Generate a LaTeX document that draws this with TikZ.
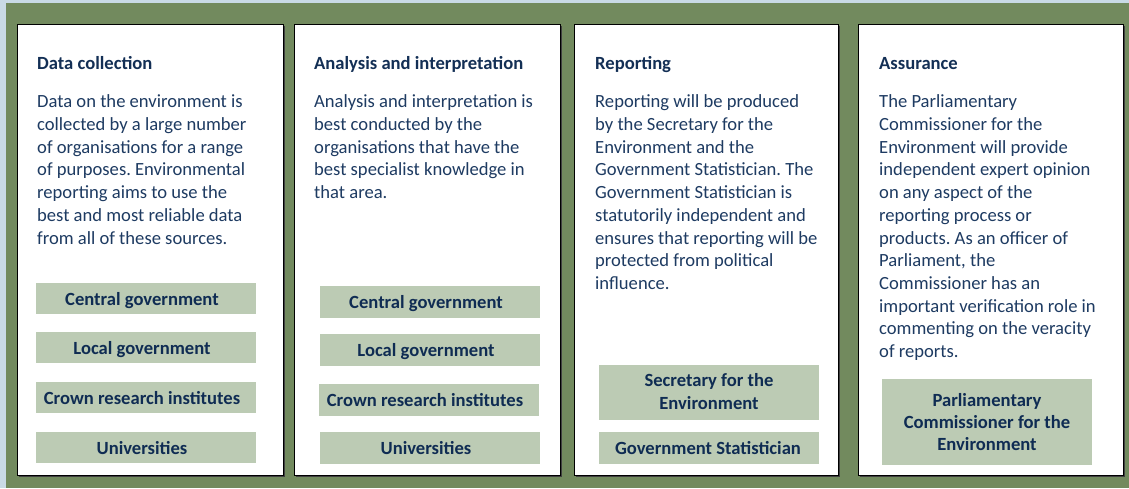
\documentclass[tikz,border=0pt]{standalone}
\usepackage{fontspec}
\setmainfont{Carlito}
\frenchspacing
\definecolor{bggreen}{HTML}{728A5E}
\definecolor{edgeblue}{HTML}{C9DAE6}
\definecolor{labfill}{HTML}{BCCBB4}
\definecolor{titlec}{HTML}{132F55}
\definecolor{bodyc}{HTML}{1E3B62}
\definecolor{labc}{HTML}{0F2C53}
\newcommand\fsz{\fontsize{18.6pt}{22.7pt}\selectfont}
\newcommand\lfsz{\fontsize{18.6pt}{22.4pt}\selectfont}
\newcommand\mypara[1]{\parbox[t]{255pt}{\raggedright #1}}
\newcommand\mycent[1]{\parbox[t]{210pt}{\centering #1}}
\tikzset{
  panel/.style={draw=black, line width=1.2pt, fill=white},
  shadow/.style={fill=black!75},
  ttl/.style={anchor=base west, inner sep=0pt, font=\fsz\bfseries, text=titlec},
  bodytxt/.style={anchor=base west, inner sep=0pt, font=\fsz, text=bodyc},
  lbox/.style={fill=labfill, inner sep=0pt, minimum width=220pt},
  ltxt/.style={anchor=base, inner sep=0pt, font=\lfsz\bfseries, text=labc}
}
\begin{document}
\begin{tikzpicture}[x=1pt,y=-1pt]
\useasboundingbox (0,0) rectangle (1129,488);
\fill[edgeblue] (0,0) rectangle (1129,488);
\fill[bggreen] (5.5,3) rectangle (1129,488);
% panels
\foreach \l/\r in {17/283,294/560,574/838,858/1123}{
  \fill[shadow] (\l+1.5,25.5) rectangle (\r+1.8,476.8);
}
\node[panel, anchor=north west, minimum width=266pt, minimum height=451pt, inner sep=0pt] (p1) at (17,24) {};
\node[panel, anchor=north west, minimum width=266pt, minimum height=451pt, inner sep=0pt] (p2) at (294,24) {};
\node[panel, anchor=north west, minimum width=264pt, minimum height=451pt, inner sep=0pt] (p3) at (574,24) {};
\node[panel, anchor=north west, minimum width=265pt, minimum height=451pt, inner sep=0pt] (p4) at (858,24) {};
% titles
\node[ttl] (h1) at (37,69) {Data collection};
\node[ttl] (h2) at (314,69) {Analysis and interpretation};
\node[ttl] (h3) at (595,69) {Reporting};
\node[ttl] (h4) at (879,69) {Assurance};
% bodies
\node[bodytxt] (d1) at (37,107.8) {\mypara{Data on the environment is\\collected by a large number\\of organisations for a range\\of purposes. Environmental\\reporting aims to use the\\best and most reliable data\\from all of these sources.}};
\node[bodytxt] (d2) at (314,107.8) {\mypara{Analysis and interpretation is\\best conducted by the\\organisations that have the\\best specialist knowledge in\\that area.}};
\node[bodytxt] (d3) at (595,107.8) {\mypara{Reporting will be produced\\by the Secretary for the\\Environment and the\\Government Statistician. The\\Government Statistician is\\statutorily independent and\\ensures that reporting will be\\protected from political\\influence.}};
\node[bodytxt] (d4) at (879,107.8) {\mypara{The Parliamentary\\Commissioner for the\\Environment will provide\\independent expert opinion\\on any aspect of the\\reporting process or\\products. As an officer of\\Parliament, the\\Commissioner has an\\important verification role in\\commenting on the veracity\\of reports.}};
% label boxes panel 1
\node[lbox, minimum height=31pt] (a1) at (146,298.5) {};
\node[lbox, minimum height=31pt] (a2) at (146,347.5) {};
\node[lbox, minimum height=31pt] (a3) at (146,397.5) {};
\node[lbox, minimum height=31pt] (a4) at (146,447.5) {};
\node[ltxt] (at1) at (142,305) {Central government};
\node[ltxt] (at2) at (142,354) {Local government};
\node[ltxt] (at3) at (142,404) {Crown research institutes};
\node[ltxt] (at4) at (142,454) {Universities};
% label boxes panel 2
\node[lbox, minimum height=32pt] (b1) at (430,302) {};
\node[lbox, minimum height=32pt] (b2) at (430,350) {};
\node[lbox, minimum height=32pt] (b3) at (429,400) {};
\node[lbox, minimum height=32pt] (b4) at (430,448) {};
\node[ltxt] (bt1) at (426,308.5) {Central government};
\node[ltxt] (bt2) at (426,356.5) {Local government};
\node[ltxt] (bt3) at (425,406.5) {Crown research institutes};
\node[ltxt] (bt4) at (426,454.5) {Universities};
% label boxes panel 3
\node[lbox, minimum height=55pt] (c1) at (709,392.5) {};
\node[lbox, minimum height=32pt] (c2) at (709,448) {};
\node[ltxt] (ct1) at (709,386.7) {\mycent{Secretary for the\\Environment}};
\node[ltxt] (ct2) at (708,454.5) {Government Statistician};
% label box panel 4
\node[lbox, minimum width=210pt, minimum height=86pt] (e1) at (987,422) {};
\node[ltxt] (et1) at (987,406) {\mycent{Parliamentary\\Commissioner for the\\Environment}};
\end{tikzpicture}
\end{document}
